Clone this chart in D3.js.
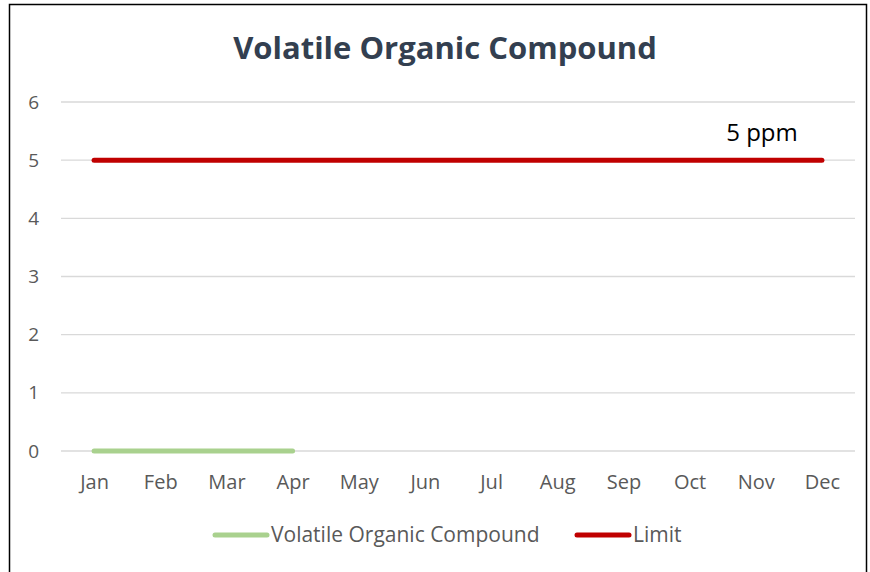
<!DOCTYPE html>
<html>
<head>
<meta charset="utf-8">
<title>Volatile Organic Compound</title>
<style>
  body { margin: 0; background: #fff; }
  text { font-family: "Open Sans", sans-serif; }
</style>
</head>
<body>
<svg id="chart"></svg>
<script src="https://d3js.org/d3.v7.min.js"></script>
<script>
var months = ["Jan", "Feb", "Mar", "Apr", "May", "Jun", "Jul", "Aug", "Sep", "Oct", "Nov", "Dec"];
var vocValues = [0, 0, 0, 0, null, null, null, null, null, null, null, null];
var limitValues = [5, 5, 5, 5, 5, 5, 5, 5, 5, 5, 5, 5];
var yTicks = [0, 1, 2, 3, 4, 5, 6];

var width = 870, height = 572;
var svg = d3.select("#chart").attr("width", width).attr("height", height);

// outer frame
svg.append("rect")
  .attr("x", 9.5).attr("y", 4.5)
  .attr("width", 857).attr("height", 600)
  .attr("fill", "none").attr("stroke", "#000").attr("stroke-width", 1.5);

var x = d3.scalePoint().domain(months).range([61, 855]).padding(0.5);
var y = d3.scaleLinear().domain([0, 6]).range([451, 102]);

// gridlines
svg.append("g")
  .selectAll("line")
  .data(yTicks)
  .enter().append("line")
  .attr("x1", 61).attr("x2", 855)
  .attr("y1", function(d) { return y(d); })
  .attr("y2", function(d) { return y(d); })
  .attr("stroke", "#d9d9d9").attr("stroke-width", 1.3);

// y axis labels
var yAxis = svg.append("g").attr("transform", "translate(39,0)")
  .call(d3.axisLeft(y).tickValues(yTicks).tickFormat(d3.format("d")).tickSize(0).tickPadding(0));
yAxis.select(".domain").remove();
yAxis.selectAll("text")
  .attr("font-family", "Open Sans").attr("font-size", 19).attr("fill", "#595959");

// x axis labels
var xAxis = svg.append("g").attr("transform", "translate(0,475)")
  .call(d3.axisBottom(x).tickSize(0).tickPadding(0));
xAxis.select(".domain").remove();
xAxis.selectAll("text")
  .attr("font-family", "Open Sans").attr("font-size", 20).attr("fill", "#595959");

var line = d3.line()
  .defined(function(d) { return d != null; })
  .x(function(d, i) { return x(months[i]); })
  .y(function(d) { return y(d); });

svg.append("path")
  .datum(vocValues)
  .attr("d", line)
  .attr("fill", "none").attr("stroke", "#a9d18e")
  .attr("stroke-width", 5).attr("stroke-linecap", "round");

svg.append("path")
  .datum(limitValues)
  .attr("d", line)
  .attr("fill", "none").attr("stroke", "#c00000")
  .attr("stroke-width", 5).attr("stroke-linecap", "round");

// title
svg.append("text")
  .attr("x", 445).attr("y", 59)
  .attr("text-anchor", "middle")
  .attr("font-size", 31).attr("font-weight", "bold")
  .attr("fill", "#333f50")
  .text("Volatile Organic Compound");

// limit label
svg.append("text")
  .attr("x", 762).attr("y", 141)
  .attr("text-anchor", "middle")
  .attr("font-size", 24).attr("fill", "#000")
  .text("5 ppm");

// legend
var legend = [
  {name: "Volatile Organic Compound", color: "#a9d18e", x: 213},
  {name: "Limit", color: "#c00000", x: 575}
];
var lg = svg.append("g").selectAll("g").data(legend).enter().append("g")
  .attr("transform", function(d) { return "translate(" + d.x + ",535)"; });
lg.append("line")
  .attr("x1", 2).attr("x2", 54)
  .attr("stroke", function(d) { return d.color; })
  .attr("stroke-width", 5).attr("stroke-linecap", "round");
lg.append("text")
  .attr("x", 58).attr("dy", "0.35em")
  .attr("font-size", 21).attr("fill", "#595959")
  .text(function(d) { return d.name; });
</script>
</body>
</html>
